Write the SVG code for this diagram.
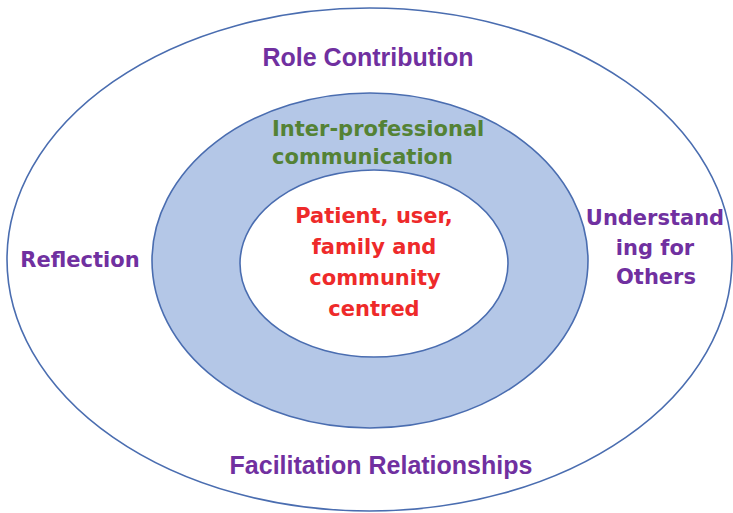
<svg xmlns="http://www.w3.org/2000/svg" width="733" height="513" viewBox="0 0 733 513">
<style>
.ring{stroke:#4a6db0;stroke-width:1.6}
.t{font-family:"DejaVu Sans","Noto Sans",sans-serif;font-weight:bold;font-size:21px}
.n{font-family:"Liberation Sans",Arial,sans-serif;font-weight:bold;font-size:25px}
.p{fill:#7030a0}
.g{fill:#548235}
.r{fill:#ee2a2a}
</style>
<rect width="733" height="513" fill="#ffffff"/>
<g id="outer">
<ellipse class="ring" cx="369.5" cy="259.5" rx="362.5" ry="251.5" fill="#ffffff"/>
<text class="n p" x="368" y="66" text-anchor="middle">Role Contribution</text>
<text class="n p" x="381" y="474" text-anchor="middle">Facilitation Relationships</text>
<text class="t p" x="80" y="267" text-anchor="middle">Reflection</text>
<text class="t p" text-anchor="middle"><tspan x="655" y="225">Understand</tspan><tspan x="655" y="255">ing for</tspan><tspan x="656" y="284">Others</tspan></text>
</g>
<g id="middle">
<ellipse class="ring" cx="370" cy="260.5" rx="218" ry="167.5" fill="#b4c7e7"/>
<text class="t g"><tspan x="272" y="136">Inter-professional</tspan><tspan x="272" y="164">communication</tspan></text>
</g>
<g id="inner">
<ellipse class="ring" cx="374" cy="263.5" rx="134" ry="93.5" fill="#ffffff"/>
<text class="t r" text-anchor="middle"><tspan x="374" y="223">Patient, user,</tspan><tspan x="374" y="254">family and</tspan><tspan x="375" y="285">community</tspan><tspan x="374" y="316">centred</tspan></text>
</g>
<g id="connectors"></g>
</svg>
